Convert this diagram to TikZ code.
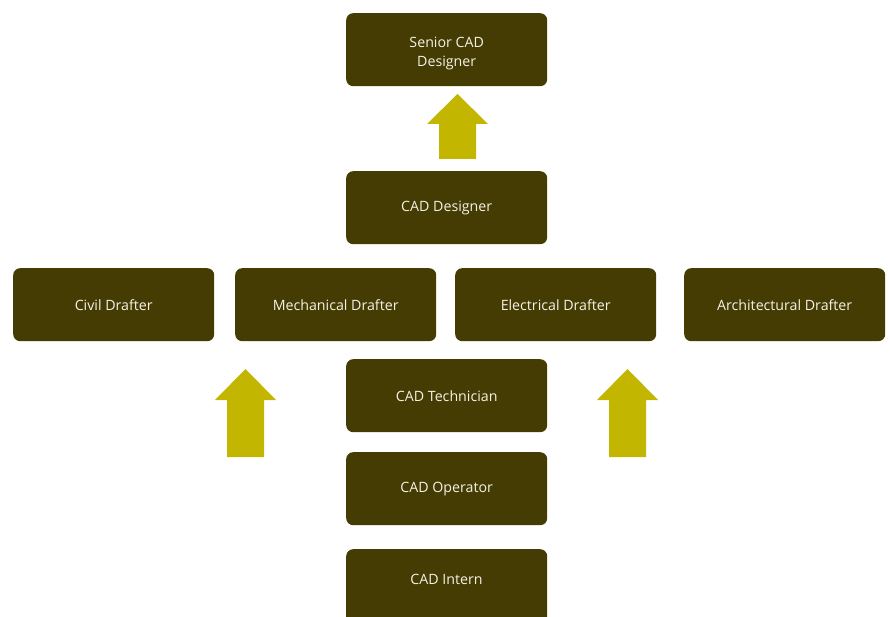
\documentclass[tikz,border=0pt]{standalone}
\usepackage{fontspec}
\setmainfont{Open Sans}
\definecolor{boxfill}{HTML}{443C03}
\definecolor{arrowfill}{HTML}{C2B600}
\definecolor{boxtext}{HTML}{F4F2E6}
\begin{document}
\begin{tikzpicture}[x=1pt,y=-1pt,
  stepbox/.style={fill=boxfill, rounded corners=7pt, minimum width=201pt, minimum height=73pt,
    text=boxtext, font=\fontsize{14.2}{19}\selectfont, align=center, inner sep=0pt, anchor=north west},
  uparrow/.style={fill=arrowfill, draw=none}]
\useasboundingbox (0,0) rectangle (890,617);
\clip (0,0) rectangle (890,617);
\node[stepbox] (senior) at (346,13) {\raisebox{-7.5pt}[0pt][0pt]{\begin{tabular}{@{}c@{}}Senior CAD\\Designer\end{tabular}}};
\node[stepbox] (designer) at (346,171) {CAD Designer};
\node[stepbox] (civil) at (13,268) {Civil Drafter};
\node[stepbox] (mech) at (235,268) {Mechanical Drafter};
\node[stepbox] (elec) at (455,268) {Electrical Drafter};
\node[stepbox] (arch) at (684,268) {Architectural Drafter};
\node[stepbox] (tech) at (346,359) {CAD Technician};
\node[stepbox] (oper) at (346,452) {CAD Operator};
\node[stepbox, minimum height=90pt, anchor=north west] (intern) at (346,549) {};
\node[text=boxtext, font=\fontsize{14.2}{19}\selectfont] (interntext) at (446.5,579) {CAD Intern};
% arrows
\fill[uparrow] (439,159) -- (439,124) -- (427,124) -- (457.5,94) -- (488,124) -- (476,124) -- (476,159) -- cycle;
\fill[uparrow] (227,457) -- (227,400) -- (215,400) -- (245.5,369) -- (276,400) -- (264,400) -- (264,457) -- cycle;
\fill[uparrow] (609,457) -- (609,400) -- (597,400) -- (627.5,369) -- (658,400) -- (646,400) -- (646,457) -- cycle;
\end{tikzpicture}
\end{document}
